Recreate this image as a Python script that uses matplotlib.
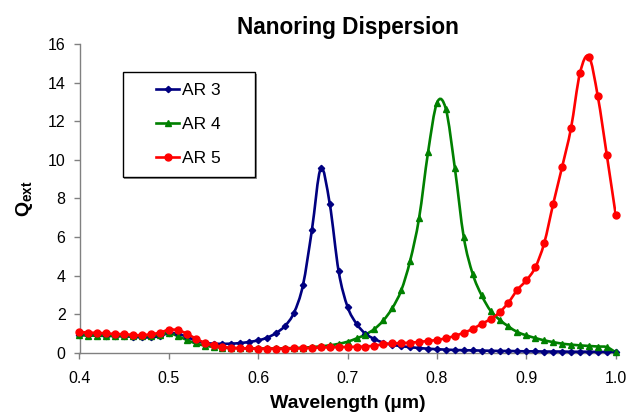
import matplotlib
matplotlib.use("Agg")
import matplotlib.pyplot as plt
import numpy as np
from matplotlib.path import Path
from matplotlib.patches import PathPatch, Rectangle
from matplotlib.lines import Line2D

plt.rcParams['font.family'] = ['Liberation Sans', 'DejaVu Sans']
plt.rcParams['mathtext.fontset'] = 'custom'
plt.rcParams['mathtext.rm'] = 'Liberation Sans'
plt.rcParams['mathtext.bf'] = 'Liberation Sans:bold'

wavelength = [0.40, 0.41, 0.42, 0.43, 0.44, 0.45, 0.46, 0.47, 0.48, 0.49,
              0.50, 0.51, 0.52, 0.53, 0.54, 0.55, 0.56, 0.57, 0.58, 0.59,
              0.60, 0.61, 0.62, 0.63, 0.64, 0.65, 0.66, 0.67, 0.68, 0.69,
              0.70, 0.71, 0.72, 0.73, 0.74, 0.75, 0.76, 0.77, 0.78, 0.79,
              0.80, 0.81, 0.82, 0.83, 0.84, 0.85, 0.86, 0.87, 0.88, 0.89,
              0.90, 0.91, 0.92, 0.93, 0.94, 0.95, 0.96, 0.97, 0.98, 0.99,
              1.00]

ar3 = [0.94, 0.93, 0.91, 0.89, 0.87, 0.85, 0.82, 0.79, 0.80, 0.86,
       1.02, 0.97, 0.83, 0.62, 0.51, 0.47, 0.46, 0.47, 0.50, 0.56,
       0.64, 0.78, 1.02, 1.39, 2.07, 3.49, 6.34, 9.55, 7.72, 4.21,
       2.37, 1.50, 0.98, 0.71, 0.52, 0.41, 0.34, 0.29, 0.24, 0.21,
       0.18, 0.16, 0.14, 0.13, 0.12, 0.11, 0.10, 0.09, 0.09, 0.08,
       0.07, 0.07, 0.06, 0.06, 0.06, 0.05, 0.05, 0.05, 0.04, 0.04,
       0.04]

ar4 = [0.90, 0.89, 0.88, 0.87, 0.86, 0.86, 0.85, 0.85, 0.87, 0.93,
       1.02, 0.86, 0.66, 0.48, 0.37, 0.30, 0.26, 0.24, 0.23, 0.22,
       0.22, 0.22, 0.22, 0.23, 0.24, 0.26, 0.29, 0.33, 0.38, 0.46,
       0.57, 0.74, 0.94, 1.23, 1.67, 2.31, 3.23, 4.77, 6.98, 10.38,
       12.95, 12.62, 9.57, 5.98, 4.08, 2.97, 2.17, 1.71, 1.36, 1.07,
       0.90, 0.76, 0.64, 0.55, 0.47, 0.42, 0.38, 0.35, 0.32, 0.29,
       0.02]

ar5 = [1.08, 1.04, 1.03, 1.00, 0.97, 0.96, 0.92, 0.91, 0.96, 1.04,
       1.19, 1.17, 0.99, 0.73, 0.52, 0.38, 0.30, 0.26, 0.23, 0.22,
       0.21, 0.21, 0.21, 0.21, 0.22, 0.23, 0.25, 0.27, 0.28, 0.29,
       0.30, 0.31, 0.32, 0.37, 0.43, 0.48, 0.50, 0.52, 0.56, 0.61,
       0.66, 0.75, 0.87, 1.04, 1.23, 1.50, 1.74, 2.09, 2.60, 3.26,
       3.75, 4.42, 5.68, 7.70, 9.62, 11.64, 14.49, 15.35, 13.28, 10.26,
       7.15]

labels = ['AR 3', 'AR 4', 'AR 5']
colors = ['#000080', '#008000', '#FF0000']
markers = ['D', '^', 'o']
msizes = [3.2, 5.0, 5.0]

xticks = [0.4, 0.5, 0.6, 0.7, 0.8, 0.9, 1.0]
yticks = [0, 2, 4, 6, 8, 10, 12, 14, 16]


def smooth_path(x, y):
    """Excel-style smoothed line: Catmull-Rom segments as cubic Beziers."""
    x = np.asarray(x, float)
    y = np.asarray(y, float)
    pts = np.column_stack([x, y])
    n = len(pts)
    verts = [pts[0]]
    codes = [Path.MOVETO]
    for i in range(n - 1):
        p0 = pts[i - 1] if i > 0 else pts[i]
        p1 = pts[i]
        p2 = pts[i + 1]
        p3 = pts[i + 2] if i + 2 < n else pts[i + 1]
        c1 = p1 + (p2 - p0) / 6.0
        c2 = p2 - (p3 - p1) / 6.0
        verts += [c1, c2, p2]
        codes += [Path.CURVE4] * 3
    return Path(verts, codes)


fig = plt.figure(figsize=(6.3, 4.15), dpi=100)
ax = fig.add_axes([79.5 / 630, (415 - 352.7) / 415,
                   (615.7 - 79.5) / 630, (352.7 - 44) / 415])

series = [ar3, ar4, ar5]
handles = []
for yv, c, m, ms, lab in zip(series, colors, markers, msizes, labels):
    patch = PathPatch(smooth_path(wavelength, yv), facecolor='none',
                      edgecolor=c, lw=1.9, zorder=3)
    ax.add_patch(patch)
    ax.plot(wavelength, yv, linestyle='none', marker=m, ms=ms, color=c,
            mec=c, zorder=4, clip_on=False)
    handles.append(Line2D([], [], color=c, lw=1.9, marker=m, ms=ms, mec=c))

ax.set_xlim(0.4, 1.0)
ax.set_ylim(0, 16)
ax.set_xticks(xticks)
ax.set_xticklabels([f"{t:.1f}" for t in xticks])
ax.set_yticks(yticks)
ax.set_yticklabels([str(t) for t in yticks])

for s in ['top', 'right']:
    ax.spines[s].set_visible(False)
for s in ['left', 'bottom']:
    ax.spines[s].set_color('#808080')
    ax.spines[s].set_linewidth(1.0)

ax.tick_params(axis='both', direction='out', length=4, width=1.0,
               color='#808080', labelsize=11.5, labelcolor='black')
ax.tick_params(axis='x', pad=9.5)
ax.tick_params(axis='y', pad=6)

ax.set_title('Nanoring Dispersion', fontsize=16.3, fontweight='bold', pad=7)
ax.set_xlabel('Wavelength (µm)', fontsize=14, fontweight='bold', labelpad=6)
ax.set_ylabel(r'$\mathbf{Q_{ext}}$', fontsize=14, labelpad=9)

# legend box
bx0 = (122.7 - 79.5) / 536.2
bx1 = (255 - 79.5) / 536.2
by1 = (352.7 - 72.3) / 308.7
by0 = (352.7 - 176.7) / 308.7
shadow = Rectangle((bx0 + 0.003, by0 - 0.006), bx1 - bx0, by1 - by0,
                   transform=ax.transAxes, facecolor='#909090',
                   edgecolor='none', zorder=5)
box = Rectangle((bx0, by0), bx1 - bx0, by1 - by0, transform=ax.transAxes,
                facecolor='white', edgecolor='black', lw=1.0, zorder=6)
ax.add_patch(shadow)
ax.add_patch(box)

leg = ax.legend(handles, labels, loc='center',
                bbox_to_anchor=((bx0 + bx1) / 2, (by0 + by1) / 2),
                frameon=False, fontsize=12.5, handlelength=1.3,
                handletextpad=0.2, labelspacing=1.1, borderaxespad=0)
leg.set_zorder(7)

fig.savefig('out.png', dpi=100)
